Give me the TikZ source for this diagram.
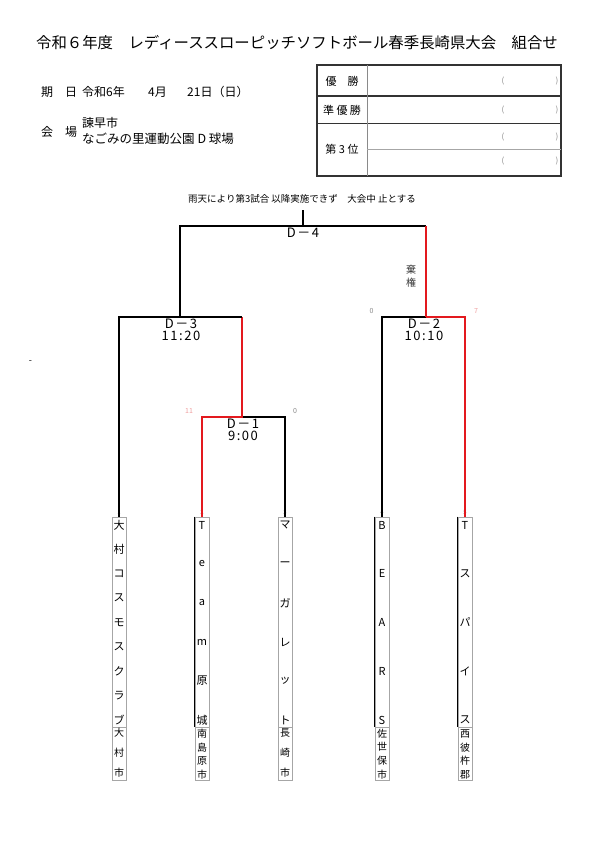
\documentclass[tikz,border=0pt]{standalone}
\usepackage{fontspec}
\setmainfont{Noto Sans CJK JP}
\newfontfamily\matchfont[LetterSpace=12]{Noto Sans CJK JP}
\usepackage{tikz}
\usetikzlibrary{positioning}
\definecolor{kumired}{HTML}{E3191E}
\definecolor{kumigray}{HTML}{8A8A8A}
\definecolor{kumipink}{HTML}{F0A0A0}
\definecolor{kumiline}{HTML}{A6A6A6}
\definecolor{kumidark}{HTML}{333333}
\tikzset{
  winline/.style={draw=kumired, line width=1.6pt},
  loseline/.style={draw=black, line width=1.6pt},
  matchlbl/.style={font=\matchfont\fontsize{13}{12}\selectfont,
    align=center, inner sep=0pt},
  namebox/.style={draw=kumiline, line width=0.6pt,
    minimum width=14pt, minimum height=210pt, inner sep=0pt},
  citybox/.style={draw=kumiline, line width=0.6pt,
    minimum width=14pt, minimum height=53pt, inner sep=0pt},
  namechar/.style={font=\fontsize{11}{11}\selectfont, inner sep=0pt},
  citychar/.style={font=\fontsize{10}{10}\selectfont, inner sep=0pt},
  seedno/.style={font=\fontsize{6}{6}\selectfont, text=kumigray, inner sep=0pt},
  scorewin/.style={font=\fontsize{7}{7}\selectfont, text=kumipink, inner sep=0pt},
  scorelose/.style={font=\fontsize{7}{7}\selectfont, text=kumigray, inner sep=0pt},
  infotext/.style={font=\fontsize{12}{12}\selectfont, anchor=west, inner sep=0pt},
  ranklbl/.style={font=\fontsize{11}{11}\selectfont, inner sep=0pt},
  paren/.style={font=\fontsize{8}{8}\selectfont, text=kumigray, inner sep=0pt},
  tableframe/.style={draw=kumidark, line width=1.2pt}
}

\begin{document}
\begin{tikzpicture}[x=1pt, y=-1pt]
  \useasboundingbox[fill=white] (0,0) rectangle (595,842);

  % heading
  \node[font=\fontsize{15.4}{15.4}\selectfont] (title) at (297,43)
    {令和６年度　レディーススローピッチソフトボール春季長崎県大会　組合せ};

  \node[infotext] (kijitsu) at (41,92) {期　日};
  \node[infotext] (nen)     at (82,92) {令和6年};
  \node[infotext] (tsuki)   at (148,92) {4月};
  \node[infotext] (hi)      at (187,92) {21日（日）};
  \node[infotext] (kaijo)   at (41,132) {会　場};
  \node[infotext] (shi)     at (82,123) {諫早市};
  \node[infotext, font=\fontsize{12.5}{12.5}\selectfont] (koen) at (82,139)
    {なごみの里運動公園 D 球場};

  % results table
  \draw[tableframe] (317,65) rectangle (561,176);
  \draw[tableframe] (317,96) -- (561,96);
  \draw[tableframe] (317,123.5) -- (561,123.5);
  \draw[draw=kumigray, line width=0.8pt] (367,65) -- (367,176);
  \draw[draw=kumiline, line width=0.8pt] (367,149) -- (561,149);
  \node[ranklbl] (yusho)   at (342,81)  {優　勝};
  \node[ranklbl] (junyu)   at (342,110) {準 優 勝};
  \node[ranklbl] (dai3)    at (342,149) {第 3 位};
  \foreach \y [count=\r] in {81,110,137,161} {
    \node[paren] (pl\r) at (503,\y) {(};
    \node[paren] (pr\r) at (557,\y) {)};
  }

  \node[font=\fontsize{9.5}{9.5}\selectfont, inner sep=0pt] (note) at (302,199)
    {雨天により第3試合 以降実施できず　大会中 止とする};
  \node[inner sep=0pt, font=\fontsize{9}{9}\selectfont] (dash) at (30.5,362) {-};

  % team boxes
  \foreach \x [count=\i] in {119,202,285,382,465} {
    \node[namebox] (t\i) at (\x,622) {};
    \node[citybox] (c\i) at (\x,753.5) {};
    \node[seedno] (s\i) at (\x,512) {\i};
  }
  \foreach \i in {2,4,5}
    \draw[black, line width=0.9pt] (t\i.north west) -- (t\i.south west);

  \foreach \ch [count=\k from 0] in {大,村,コ,ス,モ,ス,ク,ラ,ブ}
    \node[namechar] (n1-\k) at (119,{525+24.4*\k}) {\ch};
  \foreach \ch [count=\k from 0] in {T,e,a,m,原,城}
    \node[namechar] (n2-\k) at (202,{525+39*\k}) {\ch};
  \foreach \ch [count=\k from 0] in {マ,ー,ガ,レ,ッ,ト}
    \node[namechar] (n3-\k) at (285,{525+39*\k}) {\ch};
  \foreach \ch [count=\k from 0] in {B,E,A,R,S}
    \node[namechar] (n4-\k) at (382,{525+48.75*\k}) {\ch};
  \foreach \ch [count=\k from 0] in {T,ス,パ,イ,ス}
    \node[namechar] (n5-\k) at (465,{525+48.75*\k}) {\ch};

  \foreach \ch [count=\k from 0] in {大,村,市}
    \node[citychar] (a1-\k) at (119,{733+20*\k}) {\ch};
  \foreach \ch [count=\k from 0] in {南,島,原,市}
    \node[citychar] (a2-\k) at (202,{733.5+13.7*\k}) {\ch};
  \foreach \ch [count=\k from 0] in {長,崎,市}
    \node[citychar] (a3-\k) at (285,{733+20*\k}) {\ch};
  \foreach \ch [count=\k from 0] in {佐,世,保,市}
    \node[citychar] (a4-\k) at (382,{733.5+13.7*\k}) {\ch};
  \foreach \ch [count=\k from 0] in {西,彼,杵,郡}
    \node[citychar] (a5-\k) at (465,{733.5+13.7*\k}) {\ch};

  % bracket junctions
  \coordinate (d1) at (242,417);
  \coordinate (d3) at (180,317);
  \coordinate (d2) at (426,317);
  \coordinate (d4) at (303,226);
  \coordinate (top) at (303,210);

  % D-1
  \draw[loseline] (t3.north) |- (d1);
  \draw[winline] (t2.north) |- (d1) -- (d1 |- d3);
  % D-3
  \draw[loseline] (t1.north) |- (d1 |- d3);
  % D-2
  \draw[loseline] (t4.north) |- (d2);
  \draw[winline] (t5.north) |- (d2);
  % D-4
  \draw[loseline] (d3) |- (d2 |- d4);
  \draw[winline] (d2 |- d4) -- (d2);
  \draw[loseline] (d4) -- (top);

  \node[matchlbl] (lbl1) at (243,430) {D－1\\9:00};
  \node[matchlbl] (lbl3) at (181,330) {D－3\\11:20};
  \node[matchlbl] (lbl2) at (424,330) {D－2\\10:10};
  \node[matchlbl] (lbl4) at (303,233) {D－4};

  \node[scorewin]  (sc1a) at (189,411.5) {11};
  \node[scorelose] (sc1b) at (295,411.5) {0};
  \node[scorelose] (sc2a) at (371.5,311) {0};
  \node[scorewin]  (sc2b) at (476,311) {7};

  \node[font=\fontsize{10}{13}\selectfont, align=center, text=kumidark,
        inner sep=0pt] (kiken) at (411,276) {棄\\権};
\end{tikzpicture}
\end{document}
